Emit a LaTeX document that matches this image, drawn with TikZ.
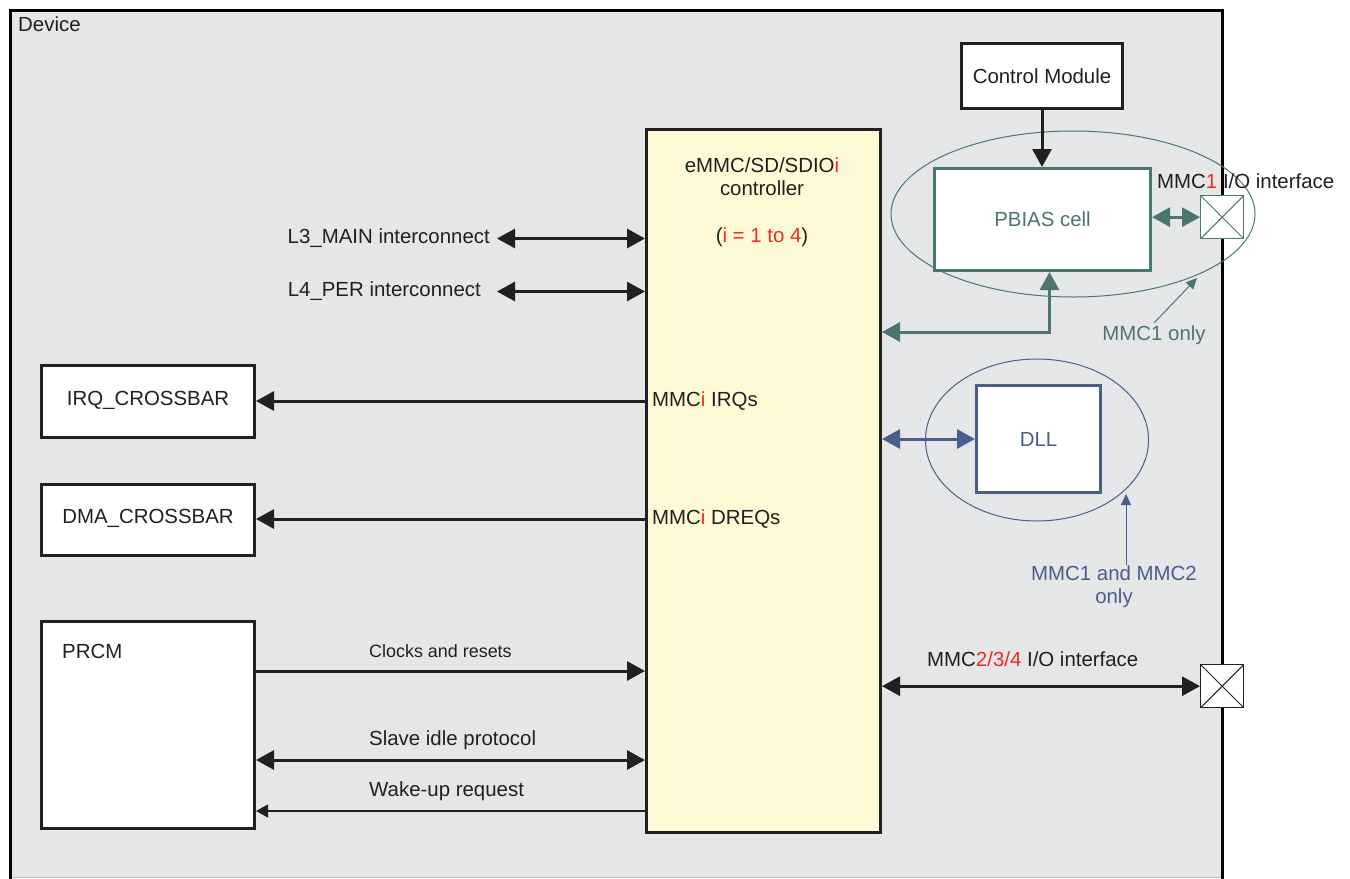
\documentclass[tikz,border=0pt]{standalone}
\usepackage{fontspec}
\setmainfont{Liberation Sans}
\usetikzlibrary{arrows.meta,shapes.geometric}
\definecolor{devgray}{HTML}{E5E6E8}
\definecolor{ctrlyellow}{HTML}{FFFAD6}
\definecolor{tealc}{HTML}{4A7571}
\definecolor{bluec}{HTML}{4A5D8B}
\definecolor{redc}{HTML}{EE2A24}
\definecolor{inkc}{HTML}{231F20}
\begin{document}
\begin{tikzpicture}[x=1bp,y=-1bp,
  font=\fontsize{20.5}{23}\selectfont,
  box/.style={draw=inkc, line width=3bp, fill=white, inner sep=0pt, anchor=north west},
  lbl/.style={inner sep=0pt, text=inkc},
  onearrow/.style={-{Triangle[length=18bp,width=19bp]}, line width=3bp, draw=inkc},
  twoarrow/.style={{Triangle[length=18bp,width=19bp]}-{Triangle[length=18bp,width=19bp]}, line width=3bp, draw=inkc},
  ring/.style={ellipse, draw, line width=1bp, inner sep=0pt},
  pad/.style={draw, fill=white, line width=1.3bp, minimum size=43bp, inner sep=0pt, anchor=north west,
    path picture={\draw[line width=1bp] (path picture bounding box.north west) -- (path picture bounding box.south east)
      (path picture bounding box.south west) -- (path picture bounding box.north east);}},
  pointer/.style={-{Triangle[length=11bp,width=10bp]}, line width=1bp}
]
\useasboundingbox (0,0) rectangle (1350,878);
% device
\fill[devgray] (10,10) rectangle (1222,878);
\draw[gray!50, line width=1bp] (10,877.5) -- (1222,877.5);
\draw[line width=3bp, draw=black] (10,880) -- (10,10) -- (1222,10) -- (1222,880);
\node[lbl, anchor=west] (devlbl) at (18,24) {Device};

% rings
\node[ring, draw=tealc, minimum width=364bp, minimum height=166bp] (pbiasring) at (1073,214) {};
\node[ring, draw=bluec, minimum width=223bp, minimum height=162bp] (dllring) at (1037,440) {};

% controller
\node[box, fill=ctrlyellow, minimum width=234bp, minimum height=703bp] (ctrl) at (645,128) {};
\node[lbl, align=center] (ctrltitle) at (762,176.5) {eMMC/SD/SDIO\textcolor{redc}{i}\\controller};
\node[lbl] (ctrlrange) at (762,237) {(\textcolor{redc}{i = 1 to 4})};

% boxes
\node[box, minimum width=161bp, minimum height=65bp] (ctrlmod) at (960,42) {};
\node[lbl] at (ctrlmod.center) {Control Module};
\node[box, draw=tealc, minimum width=216bp, minimum height=102bp] (pbias) at (933,167) {};
\node[lbl, text=tealc] at (pbias.center) {PBIAS cell};
\node[box, draw=bluec, minimum width=124bp, minimum height=107bp] (dll) at (975,384) {};
\node[lbl, text=bluec] at (dll.center) {DLL};
\node[box, minimum width=213bp, minimum height=72bp] (irq) at (40,364) {};
\node[lbl] at ([yshift=1.5bp]irq.center) {IRQ\_CROSSBAR};
\node[box, minimum width=213bp, minimum height=71bp] (dma) at (40,483) {};
\node[lbl] at ([yshift=1.5bp]dma.center) {DMA\_CROSSBAR};
\node[box, minimum width=213bp, minimum height=207bp] (prcm) at (40,620) {};
\node[lbl, anchor=west] (prcmlbl) at (62,651) {PRCM};

% pads
\node[pad, draw=tealc] (pad1) at (1200,195) {};
\node[pad, draw=inkc] (pad2) at (1200,664) {};

% labels
\node[lbl, anchor=east] (l3) at (490,238.5) {L3\_MAIN interconnect};
\node[lbl, anchor=east] (l4) at (481,291.5) {L4\_PER interconnect};
\node[lbl, anchor=west] (irqlbl) at (652,401) {MMC\textcolor{redc}{i} IRQs};
\node[lbl, anchor=west] (dmalbl) at (652,519) {MMC\textcolor{redc}{i} DREQs};
\node[lbl, anchor=west, font=\fontsize{18}{20}\selectfont] (clklbl) at (369,651) {Clocks and resets};
\node[lbl, anchor=west] (idlelbl) at (369,740) {Slave idle protocol};
\node[lbl, anchor=west] (wakelbl) at (369,791) {Wake-up request};
\node[lbl, anchor=west] (io1lbl) at (1157,181) {MMC\textcolor{redc}{1} I/O interface};
\node[lbl, anchor=west] (io2lbl) at (927,659) {MMC\textcolor{redc}{2/3/4} I/O interface};
\node[lbl, text=tealc] (m1only) at (1154,335) {MMC1 only};
\node[lbl, text=bluec, align=center] (m12only) at (1114,586.5) {MMC1 and MMC2\\only};
\coordinate (m1tip) at (1197,278);
\coordinate (m12tip) at (1126,494);

% connectors
\draw[twoarrow] ([xshift=7bp]l3.east) -- (l3.east -| ctrl.west);
\draw[twoarrow] ([xshift=16bp]l4.east) -- (l4.east -| ctrl.west);
\draw[onearrow] (irqlbl.west -| ctrl.west) -- (irqlbl.west -| irq.east);
\draw[onearrow] (dmalbl.west -| ctrl.west) -- (dmalbl.west -| dma.east);
\coordinate (clky) at (0,671);
\coordinate (idley) at (0,760);
\coordinate (wakey) at (0,811);
\draw[onearrow] (clky -| prcm.east) -- (clky -| ctrl.west);
\draw[twoarrow] (idley -| prcm.east) -- (idley -| ctrl.west);
\draw[-{Triangle[length=12bp,width=13bp]}, line width=1.2bp, draw=inkc] (wakey -| ctrl.west) -- (wakey -| prcm.east);
\draw[onearrow] (ctrlmod.south) -- (ctrlmod.south |- pbias.north);
\draw[twoarrow, draw=tealc] (pbias.east |- pad1.west) -- (pad1.west);
\coordinate (tealy) at (0,332);
\draw[twoarrow, draw=tealc] (tealy -| ctrl.east) -| ([xshift=7bp]pbias.south);
\draw[twoarrow, draw=bluec] (ctrl.east |- dll.west) -- (dll.west);
\draw[twoarrow] (ctrl.east |- pad2.west) -- (pad2.west);
\draw[pointer, draw=tealc] ([yshift=12bp]m1only.center) -- (m1tip);
\draw[pointer, draw=bluec] (m12tip |- m12only.north) -- (m12tip);
\end{tikzpicture}
\end{document}
